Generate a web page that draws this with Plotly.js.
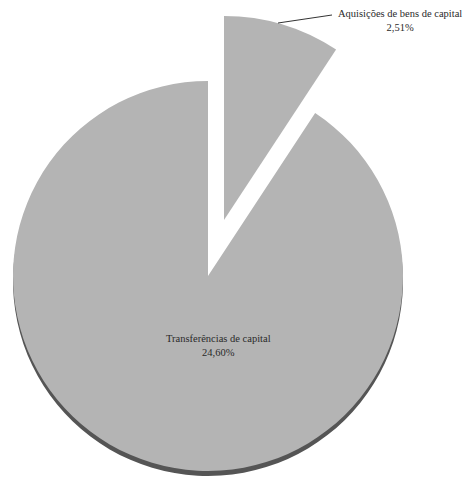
<!DOCTYPE html>
<html>
<head>
<meta charset="utf-8">
<script src="https://cdn.plot.ly/plotly-3.0.1.min.js"></script>
<style>
  html, body { margin: 0; padding: 0; background: #ffffff; }
  #chart { width: 473px; height: 489px; }
</style>
</head>
<body>
<div id="chart"></div>
<script>
// Capital expenditure shares (percent of total spending)
const categories = ['Aquisições de bens de capital', 'Transferências de capital'];
const shares = [2.51, 24.60];

const fillGray = '#b4b4b4';
const rimGray = '#555555';
const clear = 'rgba(0,0,0,0)';

function fmtPct(v) {
  return v.toFixed(2).replace('.', ',') + '%';
}

// one colour per slice; only the chosen slice is painted, the other stays clear
function colorsFor(idx, col) {
  return shares.map((_, i) => (i === idx ? col : clear));
}

function pieTrace(idx, col, domain) {
  return {
    type: 'pie',
    labels: categories,
    values: shares,
    sort: false,
    direction: 'clockwise',
    rotation: 0,
    textinfo: 'none',
    hoverinfo: 'none',
    showlegend: false,
    domain: domain,
    marker: { colors: colorsFor(idx, col), line: { width: 0 } }
  };
}

const W = 473, H = 489;
// domain from a centre point and radius given in pixels
function dom(cx, cy, r) {
  return {
    x: [(cx - r) / W, (cx + r) / W],
    y: [1 - (cy + r) / H, 1 - (cy - r) / H]
  };
}

const data = [
  // dark rim under the main slice (pie edge)
  pieTrace(1, rimGray, dom(208, 281, 195)),
  // main slice
  pieTrace(1, fillGray, dom(208, 276, 195)),
  // pulled-out small slice
  pieTrace(0, fillGray, dom(224, 220, 204))
];

const font = { family: 'Liberation Serif, Times New Roman, serif', size: 10.5, color: '#2a2a2a' };

const layout = {
  width: W,
  height: H,
  margin: { l: 0, r: 0, t: 0, b: 0 },
  paper_bgcolor: '#ffffff',
  showlegend: false,
  shapes: [
    {
      type: 'line', xref: 'paper', yref: 'paper',
      x0: 278 / W, y0: 1 - 23 / H, x1: 332 / W, y1: 1 - 15 / H,
      line: { color: '#333333', width: 1 }
    }
  ],
  annotations: [
    {
      xref: 'paper', yref: 'paper',
      x: 400 / W, y: 1 - 21 / H,
      xanchor: 'center', yanchor: 'middle',
      text: categories[0] + '<br>' + fmtPct(shares[0]),
      showarrow: false, font: font
    },
    {
      xref: 'paper', yref: 'paper',
      x: 218 / W, y: 1 - 345 / H,
      xanchor: 'center', yanchor: 'middle',
      text: categories[1] + '<br>' + fmtPct(shares[1]),
      showarrow: false, font: font
    }
  ]
};

Plotly.newPlot('chart', data, layout, { staticPlot: true, displayModeBar: false });
</script>
</body>
</html>
